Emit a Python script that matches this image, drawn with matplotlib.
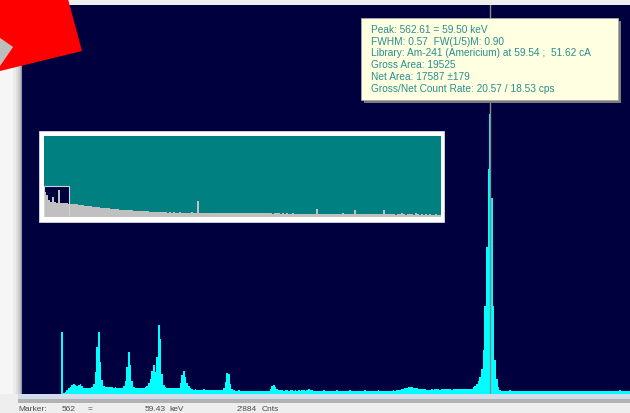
import matplotlib
matplotlib.use("Agg")
import matplotlib.pyplot as plt
import numpy as np
from matplotlib.patches import Polygon, Rectangle

# zoomed spectrum: counts per 2-channel bin, channels 0..731
bin_width = 2
counts = [
    0, 0, 0, 0, 0, 0, 0, 0, 0, 0,
    0, 0, 0, 0, 0, 0, 0, 0, 0, 0,
    0, 0, 0, 0, 630, 15, 25, 40, 60, 75,
    90, 100, 95, 85, 95, 100, 80, 65, 60, 65,
    60, 65, 70, 100, 220, 480, 630, 330, 140, 85,
    75, 70, 72, 68, 70, 65, 67, 62, 60, 60,
    65, 80, 130, 280, 425, 300, 130, 75, 62, 60,
    58, 60, 62, 65, 70, 80, 110, 150, 230, 300,
    220, 380, 700, 560, 200, 90, 70, 65, 62, 60,
    58, 60, 58, 62, 65, 110, 190, 235, 170, 110,
    80, 60, 50, 45, 48, 42, 45, 44, 40, 46,
    42, 44, 40, 43, 45, 40, 42, 44, 40, 42,
    45, 60, 120, 210, 200, 100, 50, 38, 35, 33,
    36, 34, 32, 35, 30, 34, 33, 31, 35, 32,
    30, 34, 31, 33, 30, 32, 35, 31, 33, 55,
    80, 92, 75, 50, 38, 36, 40, 35, 38, 37,
    35, 39, 36, 34, 38, 35, 37, 33, 36, 38,
    34, 37, 50, 45, 36, 34, 32, 35, 33, 31,
    34, 36, 32, 30, 33, 35, 31, 34, 32, 36,
    33, 30, 34, 32, 35, 31, 33, 36, 32, 34,
    30, 33, 35, 32, 34, 31, 36, 33, 30, 35,
    32, 34, 31, 33, 36, 32, 35, 30, 34, 33,
    31, 35, 32, 36, 34, 38, 40, 45, 50, 55,
    60, 65, 68, 70, 68, 65, 62, 58, 55, 52,
    50, 48, 46, 45, 44, 45, 47, 44, 48, 46,
    49, 45, 47, 50, 46, 48, 47, 49, 45, 48,
    50, 47, 49, 51, 48, 50, 52, 49, 51, 53,
    55, 70, 85, 100, 130, 170, 260, 450, 900, 1500,
    2300, 2860, 2000, 900, 350, 150, 70, 45, 35, 32,
    34, 30, 33, 36, 31, 29, 33, 35, 30, 32,
    34, 31, 28, 33, 35, 30, 32, 34, 29, 33,
    31, 35, 30, 32, 34, 28, 33, 31, 35, 30,
    32, 34, 29, 33, 31, 35, 30, 32, 28, 34,
    31, 33, 30, 35, 32, 29, 34, 31, 33, 30,
    32, 35, 29, 31, 34, 30, 33, 32, 28, 34,
    31, 33, 35, 30, 32, 29, 34, 31, 33, 36,
    30, 32, 34, 31, 33, 35,
]

# whole spectrum overview (inset), 58-channel bins, arbitrary units
overview_width = 58
overview = [
    250, 220, 170, 150, 200, 150, 140, 270, 140, 140,
    138, 136, 135, 134, 131, 128, 126, 123, 120, 118,
    115, 112, 110, 107, 105, 102, 100, 97, 95, 93,
    91, 89, 87, 85, 83, 81, 79, 77, 75, 73,
    71, 70, 68, 67, 66, 64, 63, 62, 60, 59,
    58, 57, 56, 55, 54, 52, 51, 50, 49, 47,
    46, 48, 45, 47, 44, 46, 45, 43, 46, 44,
    45, 43, 44, 42, 46, 43, 44, 160, 45, 42,
    44, 41, 43, 45, 42, 40, 44, 41, 43, 42,
    40, 43, 41, 42, 39, 42, 40, 41, 43, 39,
    41, 40, 38, 42, 39, 40, 37, 41, 38, 39,
    37, 40, 36, 38, 39, 35, 38, 36, 37, 35,
    36, 34, 37, 35, 33, 36, 34, 35, 32, 34,
    33, 35, 32, 34, 31, 33, 32, 80, 33, 31,
    32, 30, 33, 31, 29, 32, 30, 31, 28, 30,
    45, 29, 31, 28, 30, 29, 70, 30, 28, 29,
    27, 29, 28, 30, 27, 35, 28, 26, 29, 27,
    28, 70, 27, 29, 26, 28, 27, 25, 28, 26,
    40, 27, 25, 28, 26, 27, 25, 40, 26, 24,
    27, 25, 26, 24, 26, 23, 25, 26, 24, 25,
]

marker_channel = 562.4
zoom_channels = 731
zoom_box_height = 310

info_lines = [
    "Peak: 562.61 = 59.50 keV",
    "FWHM: 0.57  FW(1/5)M: 0.90",
    "Library: Am-241 (Americium) at 59.54 ;  51.62 cA",
    "Gross Area: 19525",
    "Net Area: 17587 \u00b1179",
    "Gross/Net Count Rate: 20.57 / 18.53 cps",
]
status_text = ["Marker:", "562", "=", "59.43", "keV", "2'884", "Cnts"]

W, H = 630, 414
navy = "#00003f"
font = "Liberation Sans"


def frac(x0, y0, x1, y1):
    return [x0 / W, 1 - y1 / H, (x1 - x0) / W, (y1 - y0) / H]


def pixel_axes(z):
    a = fig.add_axes([0, 0, 1, 1], zorder=z)
    a.set_xlim(0, W)
    a.set_ylim(H, 0)
    a.axis("off")
    a.patch.set_visible(False)
    return a


fig = plt.figure(figsize=(6.3, 4.14), dpi=100, facecolor="#eeeeee")

# main spectrum window
ax = fig.add_axes(frac(21.5, 5.5, 630, 395), zorder=0)
ax.set_facecolor(navy)
edges = np.arange(len(counts) + 1) * bin_width
ax.stairs(counts, edges, fill=True, color="#00ffff", lw=0, antialiased=False)
ax.axvline(marker_channel, color="#8a8a8a", lw=1)
ax.set_xlim(0, zoom_channels)
ax.set_ylim(0, 3980)
ax.set_xticks([])
ax.set_yticks([])
for s in ax.spines.values():
    s.set_visible(False)
ax.spines["left"].set_visible(True)
ax.spines["left"].set_color("#8796b4")
ax.spines["left"].set_linewidth(0.8)

# white frame behind the overview
frame = pixel_axes(1)
frame.add_patch(Rectangle((39, 132), 405, 91, fc="white", ec="#d4d8e8", lw=0.6))

# overview inset
ins = fig.add_axes(frac(44, 137, 441, 218), zorder=2)
ins.set_facecolor("#008080")
ins.add_patch(Rectangle((0, 0), zoom_channels, zoom_box_height, fc=navy, lw=0, zorder=1))
ins.stairs(overview, np.arange(len(overview) + 1) * overview_width,
           fill=True, color="#c0c0c0", lw=0, antialiased=False, zorder=2)
ins.add_patch(Rectangle((0, 0), zoom_channels, zoom_box_height, fill=False,
                        ec="#d0d0d8", lw=0.8, zorder=3))
ins.set_xlim(0, len(overview) * overview_width)
ins.set_ylim(0, 810)
ins.set_xticks([])
ins.set_yticks([])
for s in ins.spines.values():
    s.set_visible(False)

# window decorations, arrow, info box, status bar
top = pixel_axes(3)
top.add_patch(Rectangle((0, 0), W, 5.5, fc="#eeeeee", lw=0))
for x0, x1, c in [(0, 13, "#f6f6f6"), (13, 16, "#ebebeb"), (16, 18, "#dedede"),
                  (18, 20, "#cbcbcb"), (20, 21, "#b4b4b4")]:
    top.add_patch(Rectangle((x0, 5.5), x1 - x0, 390, fc=c, lw=0))
top.add_patch(Rectangle((18, 395), W - 18, 5, fc="#d2dcea", lw=0))
top.add_patch(Rectangle((18, 400.5), W - 18, 3.5, fc="#b2b2b2", lw=0))

top.add_patch(Polygon([(0, 39), (13, 48), (0, 67)], closed=True, fc="#bdbdbd", lw=0))
top.add_patch(Polygon([(0, 0), (68, 0), (82, 52), (0, 72), (0, 67), (13, 48), (0, 39)],
                      closed=True, fc="#ff0000", lw=0))

top.add_patch(Rectangle((364, 22), 257, 82, fc="#7c7c7c", lw=0))
top.add_patch(Rectangle((361, 19), 257, 82, fc="#ffffe1", ec="#a8a8a8", lw=0.6))
for i, line in enumerate(info_lines):
    top.text(371, 30 + i * 11.7, line, fontsize=7.3, family=font,
             color="#2a8e8e", va="center", ha="left")

status_x = [18, 62, 88, 145, 169, 237, 262]
for x, t in zip(status_x, status_text):
    top.text(x, 409.5, t, fontsize=6, family=font, color="#4a4a4a",
             va="center", ha="left")

fig.savefig("out.png", dpi=100, facecolor=fig.get_facecolor())
